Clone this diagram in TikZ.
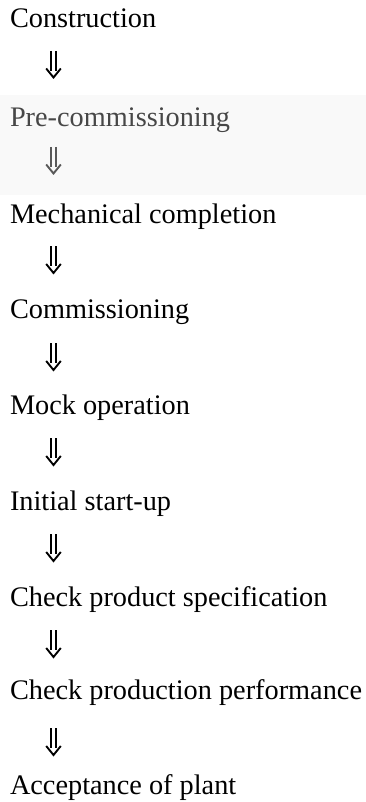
\documentclass[tikz,border=0pt]{standalone}
\usepackage{fontspec}
\setmainfont{Liberation Serif}
\begin{document}
\begin{tikzpicture}[x=1pt,y=1pt,
  step label/.style={anchor=base west,inner sep=0pt,outer sep=0pt,
    font=\fontsize{28.3}{34}\selectfont},
  faded/.style={text=black!72},
  pics/downarr/.style={code={
    \draw[line width=2.4pt,#1] (-2.5,0) -- (-2.5,-20);
    \draw[line width=2.4pt,#1] (2.5,0) -- (2.5,-20);
    \draw[line width=1.9pt,line join=miter,#1] (-7.3,-17.5) -- (0,-26.5) -- (7.3,-17.5);
  }},
  pics/downarr/.default={black}
]
\useasboundingbox (0,0) rectangle (366,802);
% scanned patch behind the second step
\fill[black!2.5] (0,607) rectangle (366,707);

\node[step label] (s1) at (10,774) {Construction};
\node[step label,faded] (s2) at (10,675) {Pre-commissioning};
\node[step label] (s3) at (10,578) {Mechanical completion};
\node[step label] (s4) at (10,483) {Commissioning};
\node[step label] (s5) at (10,387) {Mock operation};
\node[step label] (s6) at (10,291) {Initial start-up};
\node[step label] (s7) at (10,195) {Check product specification};
\node[step label] (s8) at (10,102) {Check production performance};
\node[step label] (s9) at (10,8) {Acceptance of plant};

% arrow anchors between consecutive steps
\coordinate (a1) at (53.5,751);
\coordinate (a2) at (53.5,655);
\coordinate (a3) at (53.5,555.5);
\coordinate (a4) at (53.5,458.5);
\coordinate (a5) at (53.5,363.5);
\coordinate (a6) at (53.5,267.5);
\coordinate (a7) at (53.5,171.5);
\coordinate (a8) at (53.5,73.5);

\pic at (a1) {downarr};
\pic at (a2) {downarr={black!65}};
\pic at (a3) {downarr};
\pic at (a4) {downarr};
\pic at (a5) {downarr};
\pic at (a6) {downarr};
\pic at (a7) {downarr};
\pic at (a8) {downarr};
\end{tikzpicture}
\end{document}
